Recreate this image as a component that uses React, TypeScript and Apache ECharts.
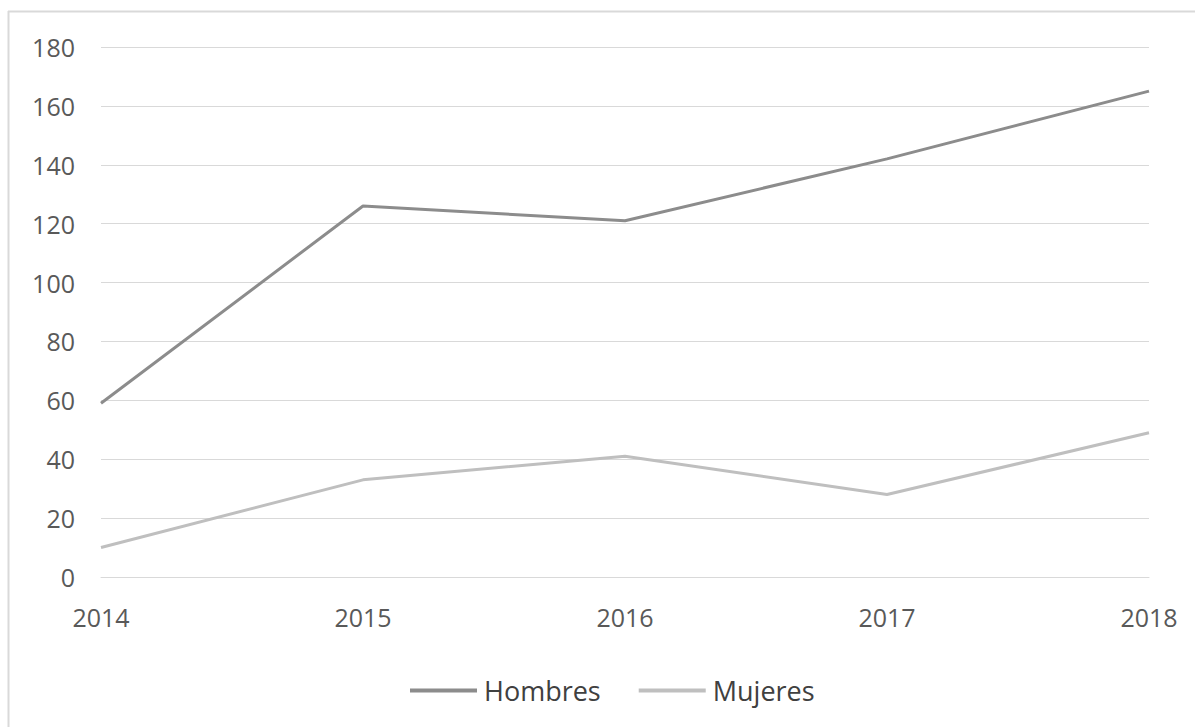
import React, { useEffect, useRef } from "react";
import * as echarts from "echarts";

const years = ["2014", "2015", "2016", "2017", "2018"];
const hombres = [59, 126, 121, 142, 165];
const mujeres = [10, 33, 41, 28, 49];
const seriesNames = ["Hombres", "Mujeres"];

export default function App() {
  const ref = useRef<HTMLDivElement>(null);
  useEffect(() => {
    if (!ref.current) return;
    const chart = echarts.init(ref.current, null, { renderer: "svg" });
    chart.setOption({
      animation: false,
      backgroundColor: "#ffffff",
      graphic: [
        { type: "line", shape: { x1: 8, y1: 11.5, x2: 1195, y2: 11.5 }, style: { stroke: "#d9d9d9", lineWidth: 2 } },
        { type: "line", shape: { x1: 8.5, y1: 11, x2: 8.5, y2: 727 }, style: { stroke: "#d9d9d9", lineWidth: 2 } },
      ],
      grid: { left: 101, right: 46, top: 47, bottom: 150, containLabel: false },
      legend: {
        left: 405,
        top: 672,
        itemWidth: 67,
        itemHeight: 4,
        itemGap: 38,
        icon: "rect",
        textStyle: { fontFamily: "Open Sans", fontSize: 27, color: "#404040", padding: [0, 0, 0, 2] },
        data: seriesNames,
      },
      xAxis: {
        type: "category",
        data: years,
        boundaryGap: false,
        axisLine: { show: true, lineStyle: { color: "#d9d9d9", width: 1 } },
        axisTick: { show: false },
        axisLabel: { fontFamily: "Open Sans", fontSize: 25, color: "#595959", margin: 27 },
      },
      yAxis: {
        type: "value",
        min: 0,
        max: 180,
        interval: 20,
        axisLine: { show: false },
        axisTick: { show: false },
        splitLine: { lineStyle: { color: "#d9d9d9", width: 1 } },
        axisLabel: { fontFamily: "Open Sans", fontSize: 25, color: "#595959", margin: 26 },
      },
      series: [
        {
          name: seriesNames[0],
          type: "line",
          data: hombres,
          symbol: "none",
          lineStyle: { color: "#8c8c8c", width: 3 },
          itemStyle: { color: "#8c8c8c" },
        },
        {
          name: seriesNames[1],
          type: "line",
          data: mujeres,
          symbol: "none",
          lineStyle: { color: "#bfbfbf", width: 3 },
          itemStyle: { color: "#bfbfbf" },
        },
      ],
    });
    return () => chart.dispose();
  }, []);
  return <div ref={ref} style={{ position: "fixed", left: 0, top: 0, width: 1195, height: 727 }} />;
}
